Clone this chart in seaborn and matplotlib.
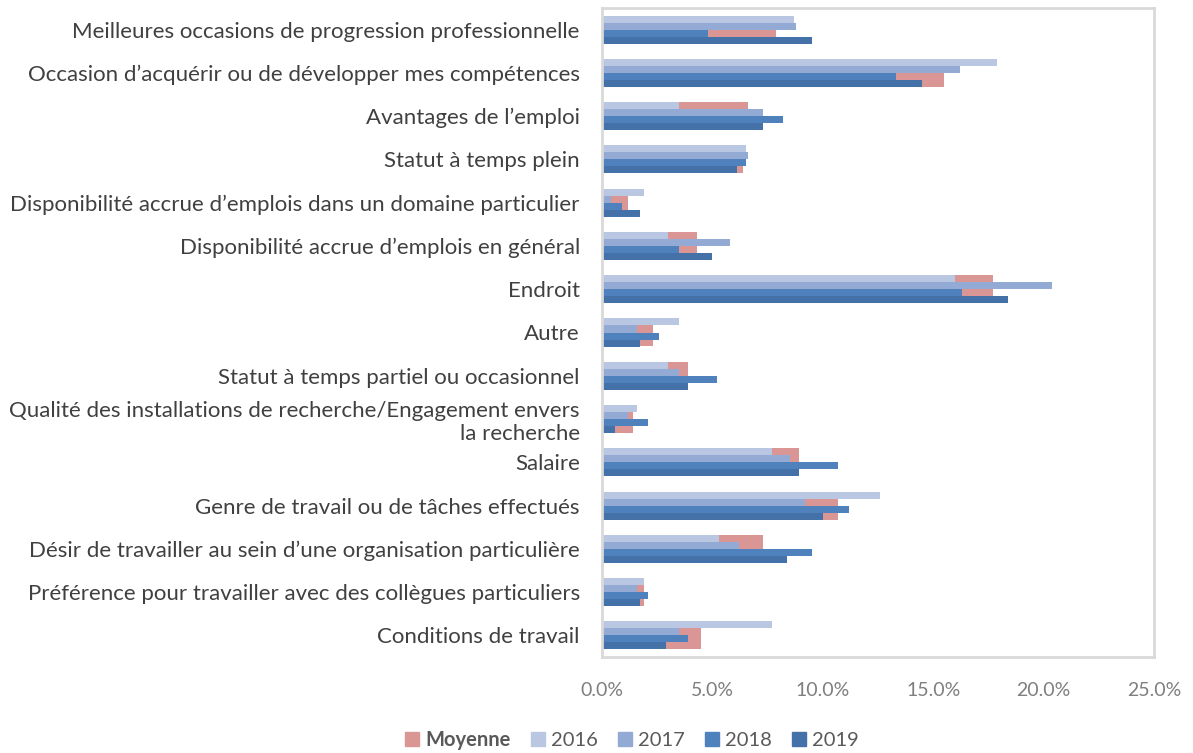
import numpy as np
import pandas as pd
from matplotlib import pyplot as plt
from matplotlib.patches import Patch
import seaborn as sns

categories = [
    "Meilleures occasions de progression professionnelle",
    "Occasion d\u2019acqu\u00e9rir ou de d\u00e9velopper mes comp\u00e9tences",
    "Avantages de l\u2019emploi",
    "Statut \u00e0 temps plein",
    "Disponibilit\u00e9 accrue d\u2019emplois dans un domaine particulier",
    "Disponibilit\u00e9 accrue d\u2019emplois en g\u00e9n\u00e9ral",
    "Endroit",
    "Autre",
    "Statut \u00e0 temps partiel ou occasionnel",
    "Qualit\u00e9 des installations de recherche/Engagement envers\nla recherche",
    "Salaire",
    "Genre de travail ou de t\u00e2ches effectu\u00e9s",
    "D\u00e9sir de travailler au sein d\u2019une organisation particuli\u00e8re",
    "Pr\u00e9f\u00e9rence pour travailler avec des coll\u00e8gues particuliers",
    "Conditions de travail",
]

# pourcentages
moyenne = [7.9, 15.5, 6.6, 6.4, 1.2, 4.3, 17.7, 2.3, 3.9, 1.4, 8.9, 10.7, 7.3, 1.9, 4.5]
y2016 = [8.7, 17.9, 3.5, 6.5, 1.9, 3.0, 16.0, 3.5, 3.0, 1.6, 7.7, 12.6, 5.3, 1.9, 7.7]
y2017 = [8.8, 16.2, 7.3, 6.6, 0.4, 5.8, 20.4, 1.6, 3.5, 1.2, 8.5, 9.2, 6.2, 1.6, 3.5]
y2018 = [4.8, 13.3, 8.2, 6.5, 0.9, 3.5, 16.3, 2.6, 5.2, 2.1, 10.7, 11.2, 9.5, 2.1, 3.9]
y2019 = [9.5, 14.5, 7.3, 6.1, 1.7, 5.0, 18.4, 1.7, 3.9, 0.6, 8.9, 10.0, 8.4, 1.7, 2.9]

years = ["2016", "2017", "2018", "2019"]
year_colors = ["#b9c7e2", "#93aad4", "#4f81bd", "#4472a8"]
moy_color = "#d99694"


def main():
    sns.set_theme(style="white")
    plt.rcParams['font.family'] = ['Lato', 'DejaVu Sans']

    fig = plt.figure(figsize=(11.93, 7.53), dpi=100)
    ax = fig.add_axes([602 / 1193, 1 - 657 / 753, 552 / 1193, 649 / 753])

    moy_df = pd.DataFrame({'cat': categories, 'val': moyenne})
    long_df = pd.DataFrame({
        'cat': categories * 4,
        'annee': [y for y in years for _ in categories],
        'val': y2016 + y2017 + y2018 + y2019,
    })

    # Moyenne en arriere-plan, sur toute la hauteur du groupe
    sns.barplot(data=moy_df, x='val', y='cat', order=categories, color=moy_color,
                width=0.645, saturation=1, linewidth=0, ax=ax, zorder=1)
    sns.barplot(data=long_df, x='val', y='cat', hue='annee', order=categories,
                hue_order=years, palette=year_colors, width=0.65, saturation=1,
                linewidth=0, dodge=True, ax=ax, legend=False, zorder=2)

    ax.set_xlim(0, 25)
    ax.set_ylim(14.5, -0.5)
    ax.set_xticks(np.arange(0, 26, 5))
    ax.set_xticklabels([f"{v:.1f}%" for v in np.arange(0, 26, 5)])
    ax.set_xlabel("")
    ax.set_ylabel("")
    ax.tick_params(axis='y', length=0, pad=16, labelsize=16, labelcolor='#404040')
    ax.tick_params(axis='x', length=0, pad=18, labelsize=14, labelcolor='#7f7f7f')
    for lab in ax.get_yticklabels():
        lab.set_horizontalalignment('right')
    for sp in ax.spines.values():
        sp.set_color('#d9d9d9')
        sp.set_linewidth(2)
    ax.grid(False)

    handles = [Patch(color=moy_color, label='Moyenne')]
    handles += [Patch(color=c, label=y) for c, y in zip(year_colors, years)]
    leg = fig.legend(handles=handles, loc='center', bbox_to_anchor=(632 / 1193, 1 - 740 / 753),
                     ncol=5, frameon=False, fontsize=14.5, handlelength=0.7, handleheight=0.7,
                     handletextpad=0.3, columnspacing=1.0)
    for t in leg.get_texts():
        t.set_color('#595959')
    leg.get_texts()[0].set_fontweight('bold')

    fig.savefig('out.png', dpi=100)


if __name__ == '__main__':
    main()
